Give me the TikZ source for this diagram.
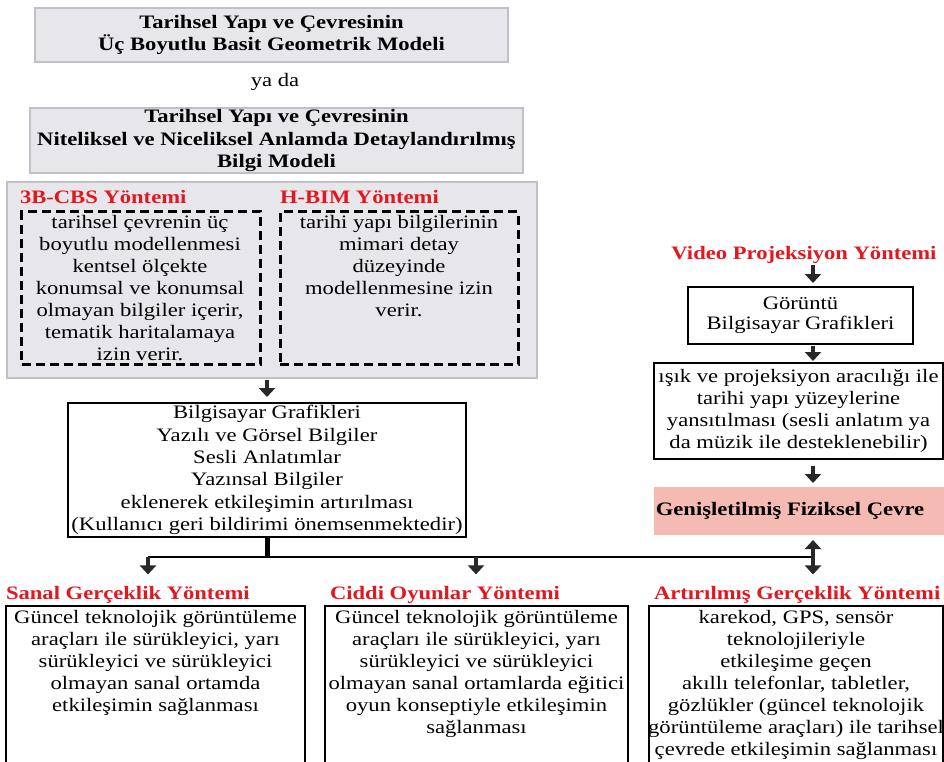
\documentclass[tikz,border=0pt]{standalone}
\usepackage{fontspec}
\setmainfont[FakeStretch=1.19]{Liberation Serif}
\usetikzlibrary{arrows.meta}
\definecolor{redT}{RGB}{228,22,30}
\definecolor{grayF}{RGB}{230,230,235}
\definecolor{grayD}{RGB}{192,192,198}
\definecolor{pinkF}{RGB}{245,186,178}
\definecolor{arrC}{RGB}{40,40,40}
\begin{document}
\begin{tikzpicture}[x=1pt,y=-1pt,
  every node/.style={inner sep=0pt,outer sep=0pt},
  txt/.style={font=\fontsize{19}{22}\selectfont,align=center},
  btxt/.style={font=\fontsize{19}{22.5}\selectfont\bfseries,align=center},
  ttl/.style={font=\fontsize{19}{22}\selectfont\bfseries,text=redT},
  graybox/.style={draw=grayD,fill=grayF,line width=2.2pt,rectangle},
  blackbox/.style={draw=black,line width=2pt,rectangle},
  dbox/.style={draw=black,line width=3pt,dash pattern=on 9pt off 5pt,rectangle},
  arr/.style={draw=arrC,line width=4pt,-{Triangle[width=16pt,length=9pt]}},
]
\useasboundingbox (0,0) rectangle (944,761);
\clip (0,0) rectangle (944,761);

% top models
\node[graybox,btxt,minimum width=473pt,minimum height=54pt] (m1) at (271.5,35)
  {Tarihsel Yapı ve Çevresinin\\Üç Boyutlu Basit Geometrik Modeli};
\node[txt] (yada) at (275,82) {ya da};
\node[graybox,btxt,minimum width=493pt,minimum height=65pt] (m2) at (276.5,140.5)
  {Tarihsel Yapı ve Çevresinin\\Niteliksel ve Niceliksel Anlamda Detaylandırılmış\\Bilgi Modeli};

% methods panel
\node[graybox,minimum width=530pt,minimum height=196pt] (big) at (272,280) {};
\node[ttl,anchor=west] (cbs) at (20,197) {3B-CBS Yöntemi};
\node[ttl,anchor=west] (hbim) at (280,197) {H-BIM Yöntemi};
\node[dbox,minimum width=239pt,minimum height=153pt] (d1) at (141,288) {};
\node[dbox,minimum width=238pt,minimum height=153pt] (d2) at (399,288) {};
\node[txt] (d1t) at (140,288) {tarihsel çevrenin üç\\boyutlu modellenmesi\\kentsel ölçekte\\konumsal ve konumsal\\olmayan bilgiler içerir,\\tematik haritalamaya\\izin verir.};
\node[txt] (d2t) at (399,266) {tarihi yapı bilgilerinin\\mimari detay\\düzeyinde\\modellenmesine izin\\verir.};

% interaction box
\node[blackbox,txt,font=\fontsize{19}{22.4}\selectfont,minimum width=398pt,minimum height=134pt] (bilg) at (267,470)
  {Bilgisayar Grafikleri\\Yazılı ve Görsel Bilgiler\\Sesli Anlatımlar\\Yazınsal Bilgiler\\eklenerek etkileşimin artırılması\\(Kullanıcı geri bildirimi önemsenmektedir)};
\draw[arr,shorten <=2pt,shorten >=6pt] (big.south -| bilg.north) -- (bilg.north);

% right column
\node[ttl] (video) at (804,255) {Video Projeksiyon Yöntemi};
\coordinate (rc) at (813,0);
\node[blackbox,txt,font=\fontsize{19}{20.5}\selectfont,minimum width=225pt,minimum height=57pt] (gor) at (800.5,315.5)
  {Görüntü\\Bilgisayar Grafikleri};
\node[blackbox,txt,minimum width=289pt,minimum height=96pt] (isik) at (798.5,411)
  {ışık ve projeksiyon aracılığı ile\\tarihi yapı yüzeylerine\\yansıtılması (sesli anlatım ya\\da müzik ile desteklenebilir)};
\node[fill=pinkF,font=\fontsize{19}{22.5}\selectfont\bfseries,minimum width=290pt,minimum height=48pt] (pink) at (799,511)
  {\hspace*{-18pt}Genişletilmiş Fiziksel Çevre};
\draw[arr,shorten <=1pt,shorten >=4pt] (video.south -| rc) -- (gor.north -| rc);
\draw[arr,shorten <=2pt,shorten >=2pt] (gor.south -| rc) -- (isik.north -| rc);
\draw[arr,shorten <=7pt,shorten >=4pt] (isik.south -| rc) -- (pink.north -| rc);

% bottom methods
\node[ttl,anchor=west] (vr) at (6,595) {Sanal Gerçeklik Yöntemi};
\node[ttl,anchor=west] (sg) at (330,595) {Ciddi Oyunlar Yöntemi};
\node[ttl,anchor=west] (ar) at (654,595) {Artırılmış Gerçeklik Yöntemi};
\node[blackbox,anchor=north,minimum width=299pt,minimum height=170pt] (b1) at (155.5,606) {};
\node[blackbox,anchor=north,minimum width=303pt,minimum height=170pt] (b2) at (476.5,606) {};
\node[blackbox,anchor=north,minimum width=294pt,minimum height=170pt] (b3) at (796,606) {};
\node[txt] (b1t) at (155.5,662.5) {Güncel teknolojik görüntüleme\\araçları ile sürükleyici, yarı\\sürükleyici ve sürükleyici\\olmayan sanal ortamda\\etkileşimin sağlanması};
\node[txt] (b2t) at (476.5,673.5) {Güncel teknolojik görüntüleme\\araçları ile sürükleyici, yarı\\sürükleyici ve sürükleyici\\olmayan sanal ortamlarda eğitici\\oyun konseptiyle etkileşimin\\sağlanması};
\node[txt] (b3t) at (796,684.5) {karekod, GPS, sensör\\teknolojileriyle\\etkileşime geçen\\akıllı telefonlar, tabletler,\\gözlükler (güncel teknolojik\\görüntüleme araçları) ile tarihsel\\çevrede etkileşimin sağlanması};

% distribution connectors
\coordinate (jn) at (267,557);
\coordinate (jl) at (148,557);
\coordinate (jm) at (476,557);
\coordinate (jr) at (813,557);
\draw[line width=5pt] (bilg.south) -- (jn);
\draw[line width=2.2pt] (jl) -- (jr);
\draw[arr,shorten >=12pt] (jl) -- (vr.north -| jl);
\draw[arr,shorten >=12pt] (jm) -- (sg.north -| jm);
\draw[arr,shorten >=12pt] (jr) -- (ar.north -| jr);
\draw[arr,shorten >=5pt] (jr) -- (pink.south -| jr);
\end{tikzpicture}
\end{document}
